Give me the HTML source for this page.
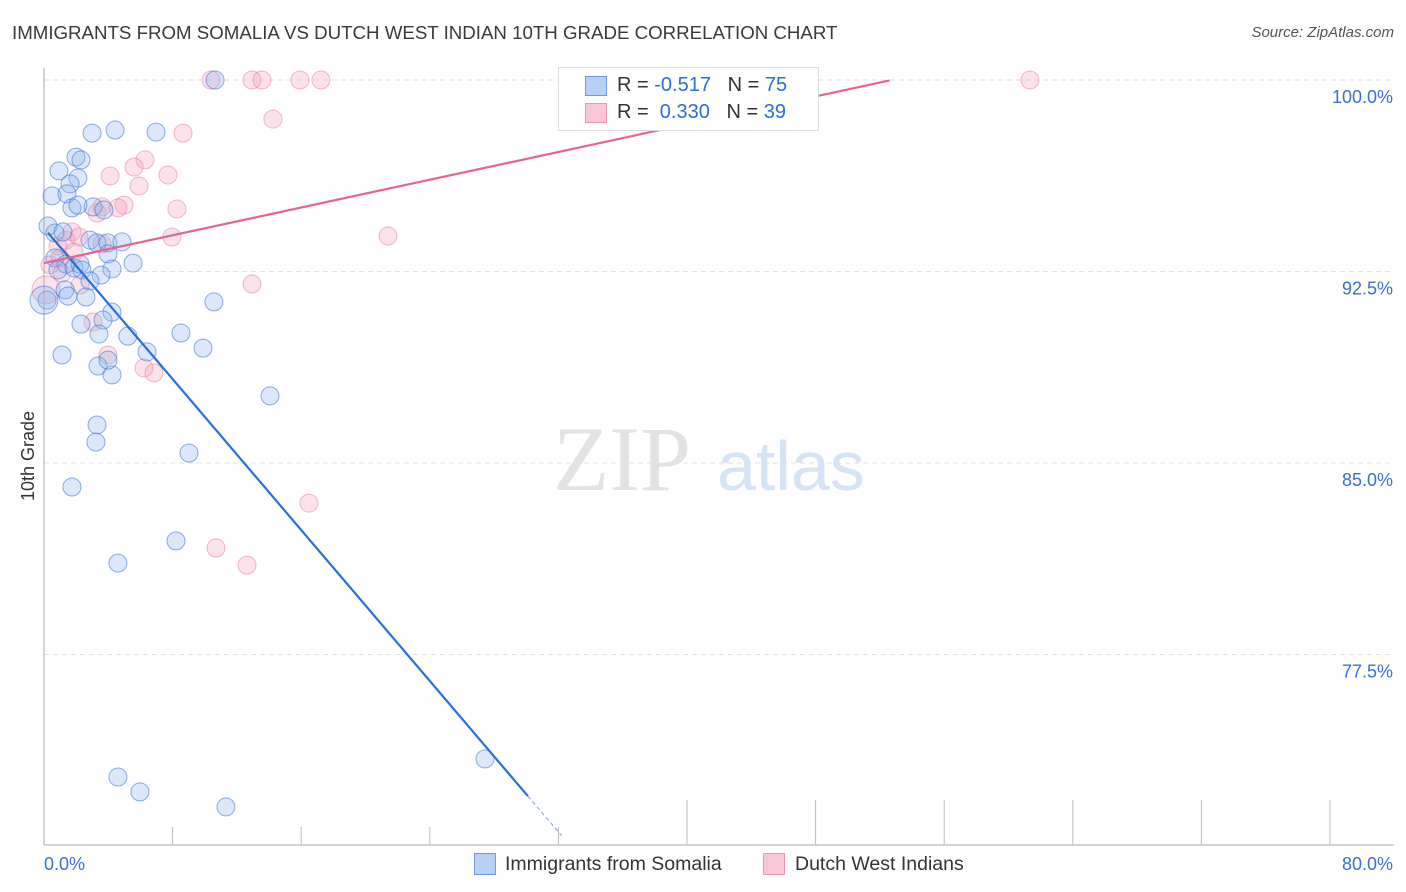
<!DOCTYPE html>
<html><head><meta charset="utf-8"><style>
body{margin:0;background:#fff;font-family:"Liberation Sans",sans-serif;}
#wrap{position:relative;width:1406px;height:892px;overflow:hidden;}
.t{position:absolute;white-space:nowrap;}
</style></head><body>
<div id="wrap">
<div class="t" style="left:12px;top:22px;font-size:18.7px;color:#3a3a3a;">IMMIGRANTS FROM SOMALIA VS DUTCH WEST INDIAN 10TH GRADE CORRELATION CHART</div>
<div class="t" style="right:12px;top:24px;font-size:15px;color:#555;font-style:italic;">Source: ZipAtlas.com</div>
<svg id="svg" width="1406" height="892" style="position:absolute;left:0;top:0"></svg>
</div>
<script>
const blueX=[10.64,2.99,4.42,6.97,1.99,2.30,0.93,2.11,1.62,0.50,1.43,1.74,3.05,3.73,2.11,0.25,0.68,1.18,2.86,3.30,3.98,4.85,0.68,1.37,0.87,1.87,3.98,2.24,2.36,4.23,5.54,3.55,2.86,1.31,1.49,2.61,0.19,10.57,4.23,3.67,2.30,3.42,5.22,8.52,9.89,6.41,1.12,3.36,4.23,3.98,14.06,3.30,3.23,9.02,1.74,8.21,4.60,27.43,4.60,5.97,11.32,0.0];
const blueY=[100,97.92,98.04,97.96,96.98,96.87,96.44,96.16,95.93,95.46,95.54,94.99,95.03,94.91,95.10,94.28,94.01,94.05,93.73,93.62,93.62,93.66,93.03,92.79,92.56,92.64,93.19,92.79,92.56,92.60,92.83,92.36,92.13,91.78,91.54,91.50,91.38,91.31,90.91,90.60,90.44,90.05,89.97,90.09,89.50,89.35,89.23,88.80,88.45,89.03,87.63,86.49,85.82,85.39,84.06,81.95,81.08,73.41,72.70,72.12,71.53,91.38];
const pinkX=[10.39,12.94,13.56,15.92,17.23,61.33,14.24,8.65,6.28,5.60,7.71,5.91,8.27,4.98,3.61,4.60,7.96,21.40,4.11,3.30,1.74,1.37,0.87,2.18,1.87,0.37,1.12,12.94,3.05,3.98,6.22,6.84,16.48,10.70,12.63,3.61,0.12,2.24,1.00];
const pinkY=[100,100,100,100,100,100,98.47,97.92,96.87,96.59,96.28,95.85,94.95,95.10,95.03,94.99,93.85,93.89,96.24,94.79,94.05,93.73,93.50,93.85,93.26,92.76,92.44,92.01,90.52,89.23,88.72,88.53,83.43,81.67,81.00,93.58,91.78,91.97,93.03];
const blueTrend=[94.2,-0.739];
const pinkTrend=[92.83,0.136];
const yTicks=[100,92.5,85,77.5];
const xTickLabels=["0.0%","80.0%"];
const X=v=>44+v/80*1286;
const Y=v=>80+(100-v)/7.5*191.5;
const svg=document.getElementById('svg');
const NS='http://www.w3.org/2000/svg';
function mk(tag,a){const e=document.createElementNS(NS,tag);for(const k in a)e.setAttribute(k,a[k]);svg.appendChild(e);return e;}
yTicks.forEach(v=>{
 const g=mk('line',{x1:44,x2:1394,y1:Y(v),y2:Y(v),stroke:'#e2e2e2','stroke-dasharray':'5,4'});
 
 
 const t=mk('text',{x:1393,y:Y(v)+23,'text-anchor':'end','font-size':18,fill:'#3b6fd4'});
 t.textContent=v.toFixed(1)+'%';
 
 
});
const ax=mk('line',{x1:44,x2:44,y1:68,y2:845,stroke:'#aaa'});


const bx=mk('line',{x1:44,x2:1394,y1:845,y2:845,stroke:'#aaa'});


for(let i=1;i<=10;i++){const v=i*8;const tk=mk('line',{x1:X(v),x2:X(v),y1:v>=40?800:827,y2:845,stroke:'#bbb'});
 
 }
const w1=mk('text',{x:553,y:490,'font-size':92,'font-family':'Liberation Serif,serif',fill:'#e3e3e3'});w1.textContent='ZIP';


const w2=mk('text',{x:717,y:490,'font-size':70,fill:'#d6e4f6'});w2.textContent='atlas';


function pts(xs,ys,fill,stroke,name){xs.forEach((x,i)=>{const c=mk('circle',{cx:X(x),cy:Y(ys[i]),r:(x===0||x===0.12)?14:9,fill:fill,stroke:stroke,'stroke-width':1});
 
 });}
pts(pinkX,pinkY,'rgba(244,160,185,0.3)','rgba(230,120,155,0.5)','dutch-west-indian-point');
pts(blueX,blueY,'rgba(140,180,235,0.3)','rgba(50,110,210,0.55)','somalia-point');
const bt1=mk('line',{x1:X(0.25),y1:Y(blueTrend[0]+blueTrend[1]*0.25),x2:X(30.1),y2:Y(blueTrend[0]+blueTrend[1]*30.1),stroke:'#2a6fd8','stroke-width':2.2});


const bt2=mk('line',{x1:X(30.1),y1:Y(blueTrend[0]+blueTrend[1]*30.1),x2:X(32.2),y2:Y(blueTrend[0]+blueTrend[1]*32.2),stroke:'#8fb0e0','stroke-width':1.2,'stroke-dasharray':'4,3'});


const pt=mk('line',{x1:X(0),y1:Y(pinkTrend[0]),x2:X(52.6),y2:Y(pinkTrend[0]+pinkTrend[1]*52.6),stroke:'#e4668f','stroke-width':2.2});


xTickLabels.forEach((s,i)=>{const t=mk('text',{x:i?1393:44,y:870,'text-anchor':i?'end':'start','font-size':18,fill:'#3b6fd4'});t.textContent=s;
 
 });
const yt=mk('text',{x:34,y:456,'font-size':18,fill:'#333','text-anchor':'middle',transform:'rotate(-90 34 456)'});yt.textContent='10th Grade';


</script>
<div class="t" style="left:558px;top:67px;width:259px;height:62px;border:1px solid #ddd;background:#fff;">
 <div style="position:absolute;left:26px;top:8px;width:20px;height:18px;background:#b9d0f4;border:1px solid #6d9be0;"></div>
 <div class="t" style="left:58px;top:6px;font-size:20px;color:#333;">R = <span style="color:#2a6fd8">-0.517</span>&nbsp;&nbsp;&nbsp;N = <span style="color:#2a6fd8">75</span></div>
 <div style="position:absolute;left:26px;top:35px;width:20px;height:18px;background:#f8c6d6;border:1px solid #e99ab5;"></div>
 <div class="t" style="left:58px;top:33px;font-size:20px;color:#333;">R = &nbsp;<span style="color:#2a6fd8">0.330</span>&nbsp;&nbsp;&nbsp;N = <span style="color:#2a6fd8">39</span></div>
</div>
<div style="position:absolute;left:474px;top:853px;">
 <div style="position:absolute;left:0;top:0;width:20px;height:20px;background:#b9d0f4;border:1px solid #6d9be0;"></div>
 <div class="t" style="left:31px;top:0;font-size:19.5px;color:#333;">Immigrants from Somalia</div></div>
<div style="position:absolute;left:763px;top:853px;">
 <div style="position:absolute;left:0;top:0;width:20px;height:20px;background:#f8c6d6;border:1px solid #e99ab5;"></div>
 <div class="t" style="left:32px;top:0;font-size:19.5px;color:#333;">Dutch West Indians</div></div>
</body></html>
